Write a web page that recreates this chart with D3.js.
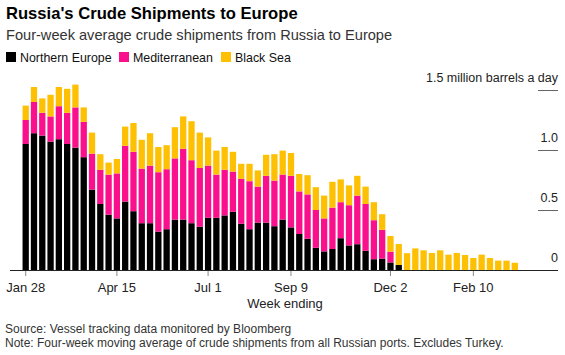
<!DOCTYPE html>
<html><head><meta charset="utf-8">
<script src="https://cdn.jsdelivr.net/npm/d3@7"></script>
<style>
html,body{margin:0;padding:0;background:#fff;}
svg{display:block;font-family:"Liberation Sans",Arial,Helvetica,sans-serif;}
</style></head>
<body>
<svg id="chart" width="565" height="355"></svg>
<script>
// Week index 0..59 (week ending), four-week average, million barrels a day
const northernEurope = [1.05,1.14,1.12,1.07,1.09,1.05,1.02,0.94,0.67,0.55,
  0.46,0.43,0.57,0.49,0.39,0.39,0.32,0.34,0.42,0.42,
  0.39,0.36,0.435,0.435,0.455,0.485,0.385,0.34,0.395,0.395,
  0.365,0.42,0.355,0.30,0.26,0.185,0.155,0.175,0.265,0.205,
  0.215,0.16,0.09,0.095,0.063,0.042,0,0,0,0,
  0,0,0,0,0,0,0,0,0,0];
const mediterranean = [0.20,0.26,0.19,0.21,0.275,0.26,0.335,0.295,0.30,0.285,
  0.335,0.375,0.465,0.495,0.455,0.48,0.495,0.50,0.51,0.59,
  0.525,0.49,0.435,0.36,0.38,0.335,0.375,0.40,0.30,0.39,
  0.38,0.375,0.43,0.355,0.37,0.315,0.275,0.345,0.30,0.335,
  0.405,0.39,0.325,0.24,0.09,0,0,0,0,0,
  0,0,0,0,0,0,0,0,0,0];
const blackSea = [0.12,0.125,0.12,0.18,0.16,0.20,0.19,0.12,0.175,0.13,
  0.10,0.12,0.16,0.24,0.24,0.27,0.21,0.20,0.26,0.27,
  0.325,0.295,0.235,0.20,0.19,0.165,0.125,0.145,0.135,0.175,
  0.22,0.20,0.19,0.145,0.16,0.19,0.19,0.215,0.19,0.165,
  0.165,0.145,0.15,0.13,0.13,0.175,0.14,0.18,0.164,0.142,
  0.164,0.128,0.142,0.125,0.10,0.128,0.10,0.078,0.078,0.06];
const tickIndex = [0,11,22,32,44,54];
const tickLabels = ["Jan 28","Apr 15","Jul 1","Sep 9","Dec 2","Feb 10"];
const yTicks = [0,0.5,1.0,1.5];
const seriesNames = ["Northern Europe","Mediterranean","Black Sea"];
const colors = ["#000000","#fa0f8c","#fdc003"];

const svg = d3.select("#chart");
const n = blackSea.length;
const rows = d3.range(n).map(i => ({i, ne: northernEurope[i], med: mediterranean[i], bs: blackSea[i]}));
const keys = ["ne","med","bs"];
const stack = d3.stack().keys(keys)(rows);

const step = 8.29;
const x = d3.scaleBand().domain(d3.range(n)).range([25.7 - step/2, 25.7 - step/2 + n*step])
  .paddingInner(0.24).paddingOuter(0.12);
const y = d3.scaleLinear().domain([0,1.5]).range([270,90]);

// Title & subtitle
svg.append("text").attr("x",6).attr("y",19).attr("font-size",16.6).attr("font-weight","bold")
  .attr("fill","#000").text("Russia's Crude Shipments to Europe");
svg.append("text").attr("x",6).attr("y",40).attr("font-size",14.6).attr("fill","#333")
  .text("Four-week average crude shipments from Russia to Europe");

// Legend
const legX = [6,119,221];
seriesNames.forEach((s,k)=>{
  const g = svg.append("g").attr("transform",`translate(${legX[k]},52)`);
  g.append("rect").attr("width",10).attr("height",10).attr("fill",colors[k]);
  g.append("text").attr("x",14).attr("y",9.5).attr("font-size",12.4).attr("fill","#111").text(s);
});

// Bars
svg.append("g").selectAll("g").data(stack).join("g").attr("fill",(d,k)=>colors[k])
  .selectAll("rect").data(d=>d).join("rect")
  .attr("x",d=>x(d.data.i)).attr("width",x.bandwidth())
  .attr("y",d=>y(d[1])).attr("height",d=>Math.max(0,y(d[0])-y(d[1])));

// Y axis: short gridline segments at right with labels above
const yg = svg.append("g");
yTicks.filter(t=>t>0).forEach(t=>{
  yg.append("line").attr("x1",538).attr("x2",558).attr("y1",y(t)+0.5).attr("y2",y(t)+0.5)
    .attr("stroke","#666").attr("stroke-width",1);
});
yTicks.forEach(t=>{
  yg.append("text").attr("x",558).attr("y",y(t)-8).attr("text-anchor","end")
    .attr("font-size",12.5).attr("fill","#222")
    .text(t===0?"0":(t===1.5?"1.5 million barrels a day":d3.format(".1f")(t)));
});

// X axis baseline and ticks
svg.append("line").attr("x1",10).attr("x2",558).attr("y1",270.5).attr("y2",270.5)
  .attr("stroke","#222").attr("stroke-width",1);
const xg = svg.append("g");
tickIndex.forEach((ti,k)=>{
  const cx = x(ti)+x.bandwidth()/2;
  xg.append("line").attr("x1",cx).attr("x2",cx).attr("y1",271).attr("y2",276)
    .attr("stroke","#888").attr("stroke-width",1);
  xg.append("text").attr("x",cx).attr("y",292).attr("text-anchor","middle")
    .attr("font-size",13).attr("fill","#222").text(tickLabels[k]);
});
svg.append("text").attr("x",285).attr("y",308).attr("text-anchor","middle")
  .attr("font-size",13).attr("fill","#222").text("Week ending");

// Footer
svg.append("text").attr("x",5).attr("y",333).attr("font-size",12).attr("fill","#333")
  .text("Source: Vessel tracking data monitored by Bloomberg");
svg.append("text").attr("x",5).attr("y",347).attr("font-size",12).attr("fill","#333")
  .text("Note: Four-week moving average of crude shipments from all Russian ports. Excludes Turkey.");
</script>
</body></html>
